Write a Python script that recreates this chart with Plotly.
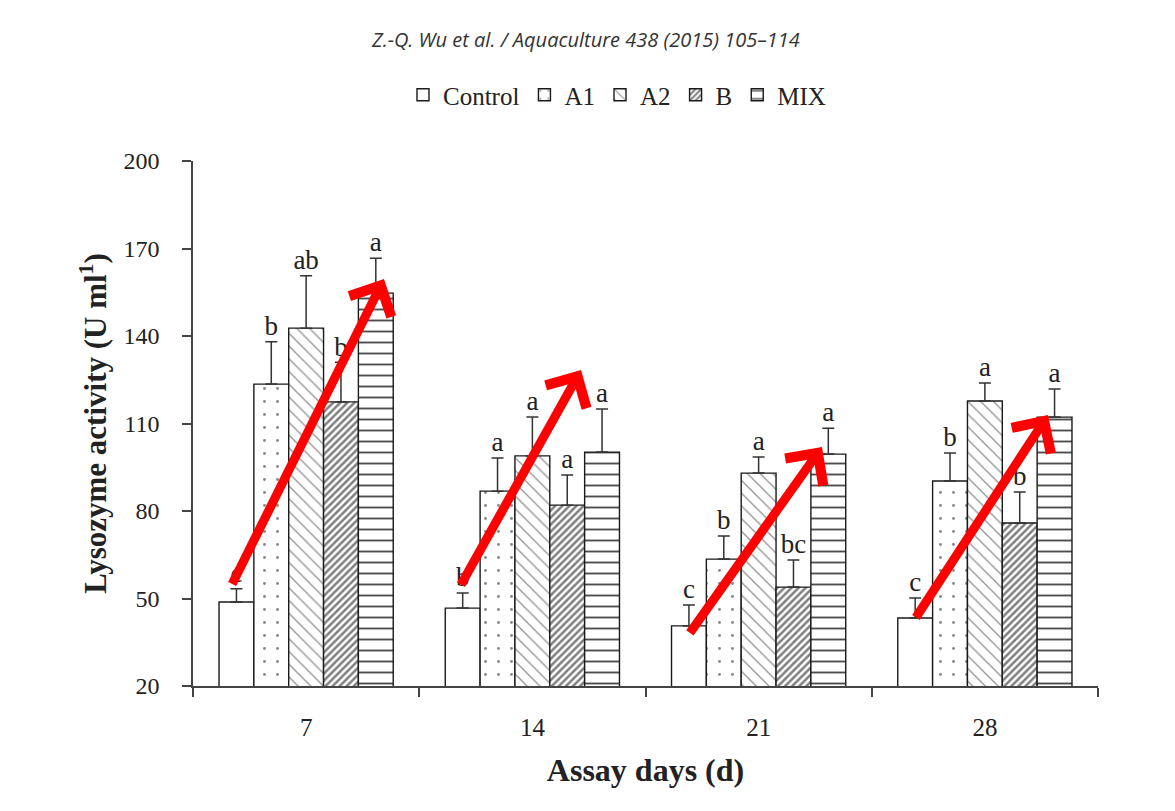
import plotly.graph_objects as go

# Assay days and treatment groups
days = ["7", "14", "21", "28"]
groups = ["Control", "A1", "A2", "B", "MIX"]

# Mean lysozyme activity (U ml-1) per group, one value per assay day
control = [48.8, 46.7, 40.6, 43.3]
a1 = [123.5, 86.8, 63.5, 90.3]
a2 = [142.7, 98.9, 93.0, 117.7]
b = [117.4, 82.0, 53.9, 75.9]
mix = [154.7, 100.2, 99.5, 112.2]

# Standard deviations (upper whisker only)
control_sd = [4.5, 5.2, 7.2, 6.9]
a1_sd = [14.5, 11.4, 7.9, 9.6]
a2_sd = [18.0, 13.3, 5.5, 6.2]
b_sd = [13.6, 10.3, 9.3, 10.6]
mix_sd = [12.0, 14.8, 8.9, 9.6]

# Significance letters
control_sig = ["c", "b", "c", "c"]
a1_sig = ["b", "a", "b", "b"]
a2_sig = ["ab", "a", "a", "a"]
b_sig = ["b", "a", "bc", "b"]
mix_sig = ["a", "a", "a", "a"]

# Red trend arrows: tail (x, y) -> tip (x, y) in axis units
arrow_tail_x = [-0.34, 0.671, 1.683, 2.682]
arrow_tail_y = [52.9, 52.9, 36.8, 41.9]
arrow_tip_x = [0.344, 1.215, 2.280, 3.279]
arrow_tip_y = [159.5, 128.3, 101.9, 112.9]

values = [control, a1, a2, b, mix]
sds = [control_sd, a1_sd, a2_sd, b_sd, mix_sd]
sigs = [control_sig, a1_sig, a2_sig, b_sig, mix_sig]

patterns = [
    dict(shape=""),
    dict(shape=".", size=13, solidity=0.04, fgcolor="#111111"),
    dict(shape="\\", size=9, solidity=0.14, fgcolor="#222222"),
    dict(shape="/", size=5, solidity=0.5, fgcolor="#000000"),
    dict(shape="-", size=11, solidity=0.17, fgcolor="#111111", fgopacity=0.75),
]

SERIF = "Liberation Serif, Times New Roman, serif"
BARGAP = 0.23
n_groups = len(groups)
slot = (1 - BARGAP) / n_groups  # width of one bar in category units
xpos = list(range(len(days)))

fig = go.Figure()
for name, vals, sd, pat in zip(groups, values, sds, patterns):
    fig.add_trace(go.Bar(
        name=name, x=xpos, y=vals,
        marker=dict(color="white", line=dict(color="#1a1a1a", width=1.4), pattern=pat),
        error_y=dict(type="data", array=sd, arrayminus=[0] * len(sd), symmetric=False,
                     color="#333333", thickness=1.5, width=6),
    ))

# Significance letters above each whisker
for j, (vals, sd, sig) in enumerate(zip(values, sds, sigs)):
    shift = (j - (n_groups - 1) / 2) * slot
    fig.add_trace(go.Scatter(
        x=[x + shift for x in xpos], y=[v + s for v, s in zip(vals, sd)], text=sig,
        mode="text", textposition="top center",
        textfont=dict(family=SERIF, size=27, color="#222222"),
        showlegend=False, hoverinfo="skip",
    ))

for tx, ty, hx, hy in zip(arrow_tail_x, arrow_tail_y, arrow_tip_x, arrow_tip_y):
    fig.add_annotation(
        x=hx, y=hy, ax=tx, ay=ty, xref="x", yref="y", axref="x", ayref="y",
        showarrow=True, arrowhead=4, arrowsize=1, arrowwidth=9,
        arrowcolor="#ff0000", text=" ", standoff=0,
    )

fig.add_annotation(
    text="<i>Z.-Q. Wu et al. / Aquaculture 438 (2015) 105–114</i>",
    xref="paper", yref="paper", x=(585 - 193) / 905, y=(686 - 40) / 525,
    xanchor="center", yanchor="middle", showarrow=False,
    font=dict(family="Open Sans, sans-serif", size=20, color="#333333"),
)

fig.update_layout(
    width=1175, height=811,
    margin=dict(l=193, r=77, t=161, b=125),
    paper_bgcolor="white", plot_bgcolor="white",
    barmode="group", bargap=BARGAP, bargroupgap=0,
    font=dict(family=SERIF, color="#222222"),
    legend=dict(
        orientation="h", x=(617 - 193) / 905, y=(686 - 95) / 525,
        xanchor="center", yanchor="middle",
        font=dict(family=SERIF, size=25, color="#222222"),
        itemwidth=30, tracegroupgap=0,
    ),
    xaxis=dict(
        range=[-0.5, 3.5], tickvals=xpos, ticktext=days, ticks="",
        showline=True, linecolor="#444444", linewidth=1.5,
        showgrid=False, zeroline=False,
        tickfont=dict(family=SERIF, size=25, color="#222222"),
        ticklabelstandoff=18,
        minor=dict(tickvals=[-0.5, 0.5, 1.5, 2.5, 3.5], ticks="outside",
                   ticklen=9, tickcolor="#444444", tickwidth=1.5),
        title=dict(text="<b>Assay days (d)</b>", standoff=19,
                   font=dict(family=SERIF, size=32, color="#222222")),
    ),
    yaxis=dict(
        range=[20, 200], tickvals=[20, 50, 80, 110, 140, 170, 200],
        ticks="outside", ticklen=9, tickcolor="#444444", tickwidth=1.5,
        showline=True, linecolor="#444444", linewidth=1.5,
        showgrid=False, zeroline=False,
        tickfont=dict(family=SERIF, size=24, color="#222222"),
        ticklabelstandoff=18,
        title=dict(text="<b>Lysozyme activity (U ml<sup>1</sup>)</b>", standoff=8,
                   font=dict(family=SERIF, size=31, color="#222222")),
    ),
)

fig.write_html("out.html")
